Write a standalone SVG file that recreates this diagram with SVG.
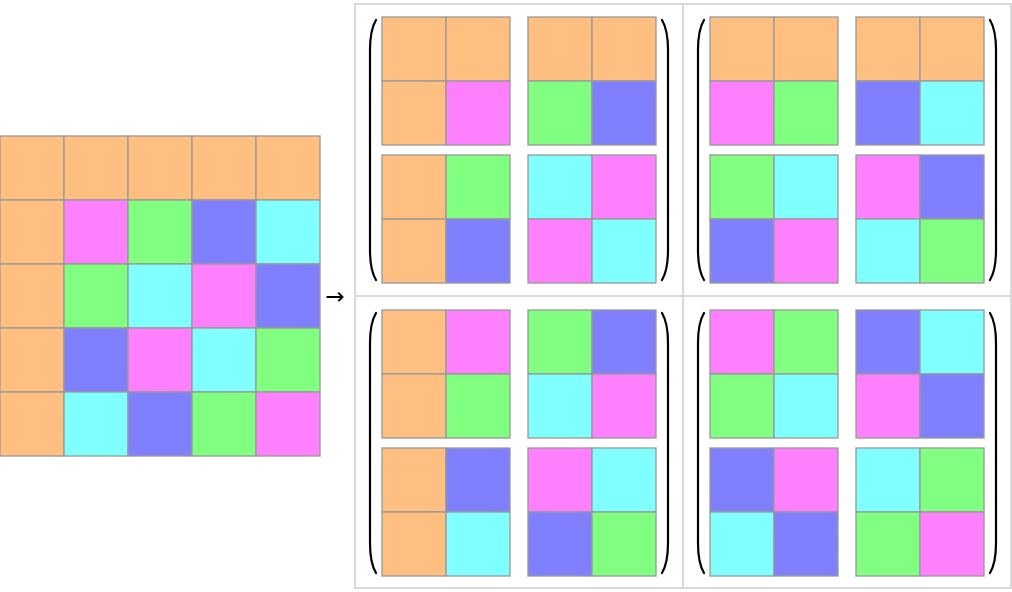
<svg xmlns="http://www.w3.org/2000/svg" width="1012" height="592" viewBox="0 0 1012 592">
<style>
rect.c{stroke:#999999;stroke-width:1.3}
.O{fill:#ffbf80}.M{fill:#ff80ff}.G{fill:#80ff80}.B{fill:#8080ff}.C{fill:#80ffff}
.frame{fill:none;stroke:#d9d9d9;stroke-width:2}
.par{fill:none;stroke:#000;stroke-width:2.2;stroke-linecap:round}
text{font-family:"DejaVu Sans","Liberation Sans",sans-serif}
</style>
<rect width="1012" height="592" fill="#fff"/>
<g id="source-grid">
<rect class="c O" x="0" y="136" width="64" height="64"/><rect class="c O" x="64" y="136" width="64" height="64"/><rect class="c O" x="128" y="136" width="64" height="64"/><rect class="c O" x="192" y="136" width="64" height="64"/><rect class="c O" x="256" y="136" width="64" height="64"/>
<rect class="c O" x="0" y="200" width="64" height="64"/><rect class="c M" x="64" y="200" width="64" height="64"/><rect class="c G" x="128" y="200" width="64" height="64"/><rect class="c B" x="192" y="200" width="64" height="64"/><rect class="c C" x="256" y="200" width="64" height="64"/>
<rect class="c O" x="0" y="264" width="64" height="64"/><rect class="c G" x="64" y="264" width="64" height="64"/><rect class="c C" x="128" y="264" width="64" height="64"/><rect class="c M" x="192" y="264" width="64" height="64"/><rect class="c B" x="256" y="264" width="64" height="64"/>
<rect class="c O" x="0" y="328" width="64" height="64"/><rect class="c B" x="64" y="328" width="64" height="64"/><rect class="c M" x="128" y="328" width="64" height="64"/><rect class="c C" x="192" y="328" width="64" height="64"/><rect class="c G" x="256" y="328" width="64" height="64"/>
<rect class="c O" x="0" y="392" width="64" height="64"/><rect class="c C" x="64" y="392" width="64" height="64"/><rect class="c B" x="128" y="392" width="64" height="64"/><rect class="c G" x="192" y="392" width="64" height="64"/><rect class="c M" x="256" y="392" width="64" height="64"/>
</g>
<g id="arrow"><text x="335" y="304" font-size="23" text-anchor="middle">→</text></g>
<g id="frame">
<rect class="frame" x="355" y="4" width="656" height="584"/>
<line class="frame" x1="683" y1="4" x2="683" y2="588"/>
<line class="frame" x1="355" y1="296" x2="1011" y2="296"/>
</g>
<g id="panel-tl">
<path class="par" d="M376,20 Q370,30 370,50 L370,250 Q370,270 376,280"/>
<path class="par" d="M662,20 Q668,30 668,50 L668,250 Q668,270 662,280"/>
<rect class="c O" x="382" y="17" width="64" height="64"/><rect class="c O" x="446" y="17" width="64" height="64"/><rect class="c O" x="382" y="81" width="64" height="64"/><rect class="c M" x="446" y="81" width="64" height="64"/>
<rect class="c O" x="528" y="17" width="64" height="64"/><rect class="c O" x="592" y="17" width="64" height="64"/><rect class="c G" x="528" y="81" width="64" height="64"/><rect class="c B" x="592" y="81" width="64" height="64"/>
<rect class="c O" x="382" y="155" width="64" height="64"/><rect class="c G" x="446" y="155" width="64" height="64"/><rect class="c O" x="382" y="219" width="64" height="64"/><rect class="c B" x="446" y="219" width="64" height="64"/>
<rect class="c C" x="528" y="155" width="64" height="64"/><rect class="c M" x="592" y="155" width="64" height="64"/><rect class="c M" x="528" y="219" width="64" height="64"/><rect class="c C" x="592" y="219" width="64" height="64"/>
</g>
<g id="panel-tr">
<path class="par" d="M704,20 Q698,30 698,50 L698,250 Q698,270 704,280"/>
<path class="par" d="M990,20 Q996,30 996,50 L996,250 Q996,270 990,280"/>
<rect class="c O" x="710" y="17" width="64" height="64"/><rect class="c O" x="774" y="17" width="64" height="64"/><rect class="c M" x="710" y="81" width="64" height="64"/><rect class="c G" x="774" y="81" width="64" height="64"/>
<rect class="c O" x="856" y="17" width="64" height="64"/><rect class="c O" x="920" y="17" width="64" height="64"/><rect class="c B" x="856" y="81" width="64" height="64"/><rect class="c C" x="920" y="81" width="64" height="64"/>
<rect class="c G" x="710" y="155" width="64" height="64"/><rect class="c C" x="774" y="155" width="64" height="64"/><rect class="c B" x="710" y="219" width="64" height="64"/><rect class="c M" x="774" y="219" width="64" height="64"/>
<rect class="c M" x="856" y="155" width="64" height="64"/><rect class="c B" x="920" y="155" width="64" height="64"/><rect class="c C" x="856" y="219" width="64" height="64"/><rect class="c G" x="920" y="219" width="64" height="64"/>
</g>
<g id="panel-bl">
<path class="par" d="M376,313 Q370,323 370,343 L370,543 Q370,563 376,573"/>
<path class="par" d="M662,313 Q668,323 668,343 L668,543 Q668,563 662,573"/>
<rect class="c O" x="382" y="310" width="64" height="64"/><rect class="c M" x="446" y="310" width="64" height="64"/><rect class="c O" x="382" y="374" width="64" height="64"/><rect class="c G" x="446" y="374" width="64" height="64"/>
<rect class="c G" x="528" y="310" width="64" height="64"/><rect class="c B" x="592" y="310" width="64" height="64"/><rect class="c C" x="528" y="374" width="64" height="64"/><rect class="c M" x="592" y="374" width="64" height="64"/>
<rect class="c O" x="382" y="448" width="64" height="64"/><rect class="c B" x="446" y="448" width="64" height="64"/><rect class="c O" x="382" y="512" width="64" height="64"/><rect class="c C" x="446" y="512" width="64" height="64"/>
<rect class="c M" x="528" y="448" width="64" height="64"/><rect class="c C" x="592" y="448" width="64" height="64"/><rect class="c B" x="528" y="512" width="64" height="64"/><rect class="c G" x="592" y="512" width="64" height="64"/>
</g>
<g id="panel-br">
<path class="par" d="M704,313 Q698,323 698,343 L698,543 Q698,563 704,573"/>
<path class="par" d="M990,313 Q996,323 996,343 L996,543 Q996,563 990,573"/>
<rect class="c M" x="710" y="310" width="64" height="64"/><rect class="c G" x="774" y="310" width="64" height="64"/><rect class="c G" x="710" y="374" width="64" height="64"/><rect class="c C" x="774" y="374" width="64" height="64"/>
<rect class="c B" x="856" y="310" width="64" height="64"/><rect class="c C" x="920" y="310" width="64" height="64"/><rect class="c M" x="856" y="374" width="64" height="64"/><rect class="c B" x="920" y="374" width="64" height="64"/>
<rect class="c B" x="710" y="448" width="64" height="64"/><rect class="c M" x="774" y="448" width="64" height="64"/><rect class="c C" x="710" y="512" width="64" height="64"/><rect class="c B" x="774" y="512" width="64" height="64"/>
<rect class="c C" x="856" y="448" width="64" height="64"/><rect class="c G" x="920" y="448" width="64" height="64"/><rect class="c G" x="856" y="512" width="64" height="64"/><rect class="c M" x="920" y="512" width="64" height="64"/>
</g>
</svg>
